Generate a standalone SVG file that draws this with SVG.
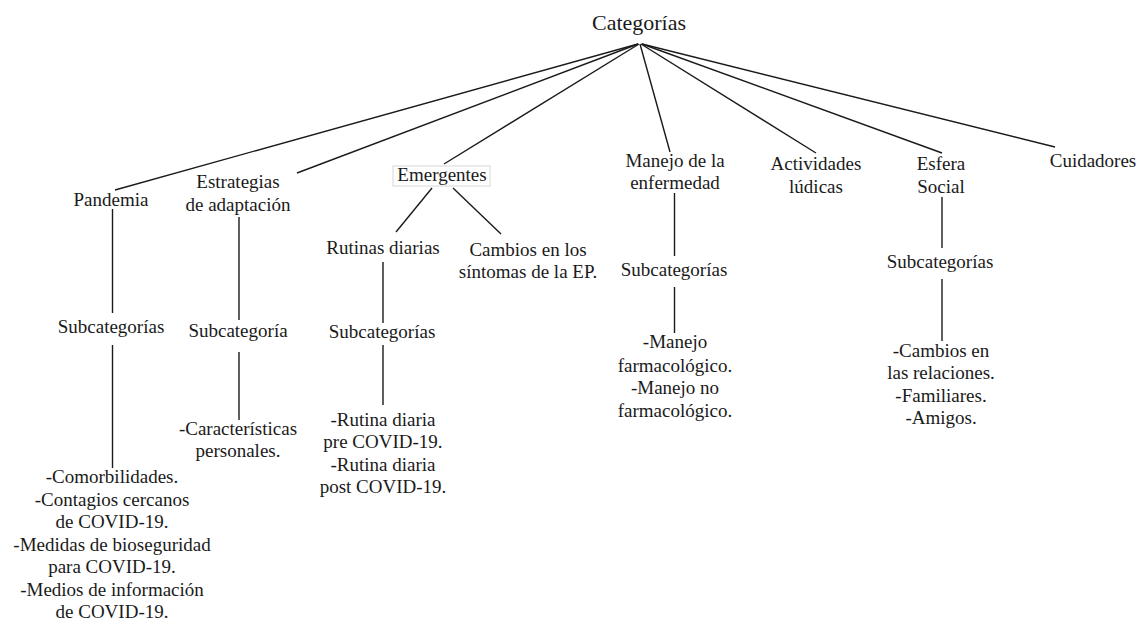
<svg xmlns="http://www.w3.org/2000/svg" width="1142" height="621" viewBox="0 0 1142 621">
<style>
text{font-family:"Liberation Serif","Times New Roman",serif;font-size:19px;fill:#1a1a1a;text-anchor:middle}
.root{font-size:22px}
.c line{stroke:#1a1a1a;stroke-width:1.4;fill:none}
</style>
<rect width="1142" height="621" fill="#fff"/>
<g class="c" id="connectors">
<line x1="638" y1="44" x2="115" y2="190"/>
<line x1="638" y1="44" x2="297" y2="173"/>
<line x1="639" y1="44" x2="444" y2="164"/>
<line x1="640" y1="44" x2="670" y2="152"/>
<line x1="641" y1="44" x2="816" y2="153"/>
<line x1="642" y1="44" x2="942" y2="153"/>
<line x1="642" y1="44" x2="1055" y2="147"/>
<line x1="432" y1="188" x2="396" y2="232"/>
<line x1="453" y1="188" x2="501" y2="234"/>
<line x1="112.5" y1="209" x2="112.5" y2="313"/>
<line x1="112.5" y1="345" x2="112.5" y2="468"/>
<line x1="239" y1="217" x2="239" y2="320"/>
<line x1="239" y1="352" x2="239" y2="420"/>
<line x1="383" y1="262" x2="383" y2="323"/>
<line x1="383" y1="345" x2="383" y2="405"/>
<line x1="674.5" y1="193" x2="674.5" y2="256"/>
<line x1="674.5" y1="287" x2="674.5" y2="333"/>
<line x1="942" y1="197" x2="942" y2="248"/>
<line x1="942" y1="279" x2="942" y2="341"/>
</g>
<g id="categorias"><text class="root" x="639" y="30">Categorías</text></g>
<g id="pandemia"><text x="111" y="206">Pandemia</text></g>
<g id="pandemia-sub"><text x="111" y="333">Subcategorías</text></g>
<g id="pandemia-list">
<text x="112" y="483">-Comorbilidades.</text>
<text x="112" y="506">-Contagios cercanos</text>
<text x="112" y="528">de COVID-19.</text>
<text x="112" y="551">-Medidas de bioseguridad</text>
<text x="112" y="573">para COVID-19.</text>
<text x="112" y="596">-Medios de información</text>
<text x="112" y="618">de COVID-19.</text>
</g>
<g id="estrategias"><text x="238" y="188">Estrategias</text><text x="238" y="211">de adaptación</text></g>
<g id="estrategias-sub"><text x="238" y="337">Subcategoría</text></g>
<g id="estrategias-list"><text x="238" y="435">-Características</text><text x="238" y="457">personales.</text></g>
<g id="emergentes"><rect x="393" y="166" width="97" height="20" fill="#fff" stroke="#d8d8d8" stroke-width="1"/><text x="442" y="181">Emergentes</text></g>
<g id="rutinas"><text x="383" y="254">Rutinas diarias</text></g>
<g id="rutinas-sub"><text x="382" y="338">Subcategorías</text></g>
<g id="rutinas-list">
<text x="383" y="426">-Rutina diaria</text>
<text x="383" y="448">pre COVID-19.</text>
<text x="383" y="471">-Rutina diaria</text>
<text x="383" y="493">post COVID-19.</text>
</g>
<g id="cambios"><text x="528" y="256">Cambios en los</text><text x="528" y="278">síntomas de la EP.</text></g>
<g id="manejo"><text x="675" y="167">Manejo de la</text><text x="675" y="189">enfermedad</text></g>
<g id="manejo-sub"><text x="674" y="276">Subcategorías</text></g>
<g id="manejo-list">
<text x="675" y="348">-Manejo</text>
<text x="675" y="372">farmacológico.</text>
<text x="675" y="394">-Manejo no</text>
<text x="675" y="417">farmacológico.</text>
</g>
<g id="actividades"><text x="816" y="170">Actividades</text><text x="816" y="193">lúdicas</text></g>
<g id="esfera"><text x="941" y="170">Esfera</text><text x="941" y="193">Social</text></g>
<g id="esfera-sub"><text x="940" y="268">Subcategorías</text></g>
<g id="esfera-list">
<text x="941" y="357">-Cambios en</text>
<text x="941" y="379">las relaciones.</text>
<text x="941" y="402">-Familiares.</text>
<text x="941" y="424">-Amigos.</text>
</g>
<g id="cuidadores"><text x="1093" y="167">Cuidadores</text></g>
</svg>
